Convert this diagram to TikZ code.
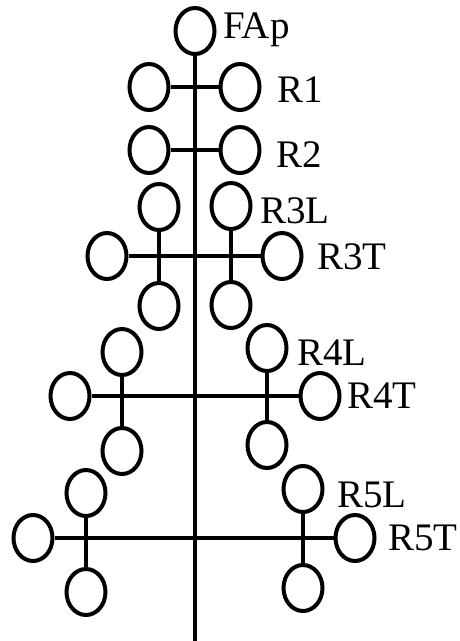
\documentclass[tikz,border=0pt]{standalone}
\usepackage{fontspec}
\setmainfont{Liberation Serif}
\usetikzlibrary{shapes.geometric}
\begin{document}
\begin{tikzpicture}[x=1pt,y=-1pt,
  ring/.style={ellipse,draw=black,line width=4pt,inner sep=0pt,
    minimum width=39pt,minimum height=46pt},
  bar/.style={draw=black,line width=4pt},
  lab/.style={anchor=base west,inner sep=0pt,font=\fontsize{39}{39}\selectfont}]
\useasboundingbox (0,0) rectangle (460,641);
% apex and stem
\node[ring] (fap) at (195,31) {};
\coordinate (stem) at (195,643);
\draw[bar] (fap) -- (stem);
\node[lab] (lfap) at (223,38) {FAp};
% R1 and R2
\node[ring] (r1l) at (149,87) {};
\node[ring] (r1r) at (240,87) {};
\draw[bar] (r1l) -- (r1r);
\node[lab] (lr1) at (277,102) {R1};
\node[ring] (r2l) at (149,150) {};
\node[ring] (r2r) at (240,150) {};
\draw[bar] (r2l) -- (r2r);
\node[lab] (lr2) at (276,167) {R2};
% R3
\node[ring] (r3a) at (159,207) {};
\node[ring] (r3b) at (159,306) {};
\node[ring] (r3c) at (231,206) {};
\node[ring] (r3d) at (231,305) {};
\node[ring] (r3w) at (107,256) {};
\node[ring] (r3e) at (282,256) {};
\draw[bar] (r3w) -- (r3e);
\draw[bar] (r3a) -- (r3b);
\draw[bar] (r3c) -- (r3d);
\node[lab] (lr3l) at (260,223) {R3L};
\node[lab] (lr3t) at (317,269) {R3T};
% R4
\node[ring] (r4a) at (122,352) {};
\node[ring] (r4b) at (122,451) {};
\node[ring] (r4c) at (267,348) {};
\node[ring] (r4d) at (267,445) {};
\node[ring] (r4w) at (70,396) {};
\node[ring] (r4e) at (320,396) {};
\draw[bar] (r4w) -- (r4e);
\draw[bar] (r4a) -- (r4b);
\draw[bar] (r4c) -- (r4d);
\node[lab] (lr4l) at (297,365) {R4L};
\node[lab] (lr4t) at (347,408) {R4T};
% R5
\node[ring] (r5a) at (86,493) {};
\node[ring] (r5b) at (86,592) {};
\node[ring] (r5c) at (303,489) {};
\node[ring] (r5d) at (303,588) {};
\node[ring] (r5w) at (33,538) {};
\node[ring] (r5e) at (355,538) {};
\draw[bar] (r5w) -- (r5e);
\draw[bar] (r5a) -- (r5b);
\draw[bar] (r5c) -- (r5d);
\node[lab] (lr5l) at (337,507) {R5L};
\node[lab] (lr5t) at (388,550) {R5T};
\end{tikzpicture}
\end{document}
